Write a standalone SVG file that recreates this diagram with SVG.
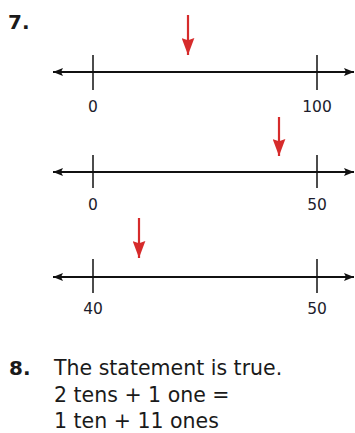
<svg xmlns="http://www.w3.org/2000/svg" width="355" height="433" viewBox="0 0 355 433">
<defs>
<marker id="ah" viewBox="0 0 10 8" refX="10" refY="4" markerWidth="10" markerHeight="8" markerUnits="userSpaceOnUse" orient="auto-start-reverse">
<path d="M0,0 L10,4 L0,8 L2,4 Z" fill="#111"/>
</marker>
<marker id="rh" viewBox="0 0 16 12" refX="16" refY="6" markerWidth="17" markerHeight="13" markerUnits="userSpaceOnUse" orient="auto">
<path d="M0,0 L2,6 L0,12 L16,6 Z" fill="#d62b2b"/>
</marker>
</defs>
<style>
.num{font-family:"DejaVu Sans","Open Sans",sans-serif;font-size:15.5px;fill:#1c1c2c;text-anchor:middle}
.hd{font-family:"DejaVu Sans","Open Sans",sans-serif;font-size:20px;font-weight:bold;fill:#1a1a1a}
.tx{font-family:"DejaVu Sans","Open Sans",sans-serif;font-size:20.5px;fill:#1a1a1a}
.axis{stroke:#111;stroke-width:2.2;fill:none}
.tick{stroke:#111;stroke-width:1.5}
.red{stroke:#d62b2b;stroke-width:2.2;fill:none}
</style>
<text class="hd" x="8" y="29">7.</text>
<g id="line1">
<line class="axis" x1="53" y1="72" x2="354" y2="72" marker-start="url(#ah)" marker-end="url(#ah)"/>
<line class="tick" x1="93" y1="55" x2="93" y2="90"/>
<line class="tick" x1="317" y1="55" x2="317" y2="90"/>
<text class="num" x="93" y="112">0</text>
<text class="num" x="317" y="112">100</text>
</g>
<g id="line2">
<line class="axis" x1="53" y1="172" x2="354" y2="172" marker-start="url(#ah)" marker-end="url(#ah)"/>
<line class="tick" x1="93" y1="155" x2="93" y2="188"/>
<line class="tick" x1="317" y1="155" x2="317" y2="188"/>
<text class="num" x="93" y="210">0</text>
<text class="num" x="317" y="210">50</text>
</g>
<g id="line3">
<line class="axis" x1="53" y1="277" x2="354" y2="277" marker-start="url(#ah)" marker-end="url(#ah)"/>
<line class="tick" x1="93" y1="259" x2="93" y2="293"/>
<line class="tick" x1="317" y1="259" x2="317" y2="293"/>
<text class="num" x="93" y="314">40</text>
<text class="num" x="317" y="314">50</text>
</g>
<g id="connectors">
<line class="red" x1="188" y1="15" x2="188" y2="55" marker-end="url(#rh)"/>
<line class="red" x1="279" y1="117" x2="279" y2="156" marker-end="url(#rh)"/>
<line class="red" x1="139" y1="218" x2="139" y2="258" marker-end="url(#rh)"/>
</g>
<g id="answer8">
<text class="hd" x="9" y="375">8.</text>
<text class="tx" x="54" y="375">The statement is true.</text>
<text class="tx" x="54" y="402">2 tens + 1 one =</text>
<text class="tx" x="54" y="428">1 ten + 11 ones</text>
</g>
</svg>
